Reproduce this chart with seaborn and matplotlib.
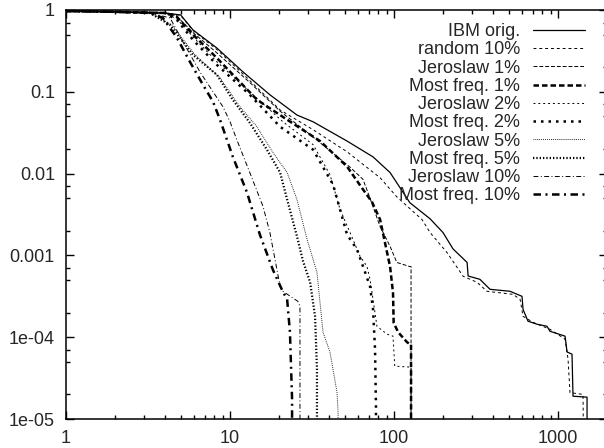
import matplotlib
matplotlib.use("Agg")
import matplotlib.pyplot as plt
import seaborn as sns
from matplotlib.ticker import LogLocator, NullFormatter

# ---- data ----
labels = ["IBM orig.", "random 10%", "Jeroslaw 1%", "Most freq. 1%",
          "Jeroslaw 2%", "Most freq. 2%", "Jeroslaw 5%", "Most freq. 5%",
          "Jeroslaw 10%", "Most freq. 10%"]

ibm_x = [1, 2, 4.0, 5.0, 5.95, 8.3, 12.0, 17.5, 25.6, 32.1, 51.7, 74.5, 94.6, 125, 166, 199, 229, 279, 283,
         334, 385, 510, 603, 612, 656, 745, 857, 893, 1104, 1135, 1217, 1234, 1503, 1503]
ibm_y = [0.97, 0.95, 0.92, 0.87, 0.57, 0.344, 0.175, 0.092, 0.052, 0.043, 0.025, 0.016, 0.0103, 0.0044, 0.0028,
         0.0019, 0.0012, 0.00082, 0.00056, 0.00051, 0.000385, 0.000364, 0.000316, 0.000219, 0.000157, 0.000144,
         0.000136, 0.000118, 0.000103, 6.6e-5, 6.2e-5, 1.9e-5, 1.85e-5, 1e-6]

rnd_x = [1, 2, 4.0, 5.0, 5.95, 8.3, 12.0, 20.2, 32.1, 51.7, 82.2, 104, 148, 166, 210, 264, 321, 369, 532, 587,
         612, 704, 893, 1104, 1151, 1183, 1420, 1442]
rnd_y = [0.97, 0.95, 0.92, 0.86, 0.56, 0.33, 0.165, 0.060, 0.0344, 0.0185, 0.0089, 0.0052, 0.00275, 0.0019,
         0.00109, 0.000555, 0.000469, 0.000364, 0.000334, 0.00029, 0.00018, 0.000152, 0.000125, 9.45e-5, 5.4e-5,
         2.1e-5, 2.0e-5, 1e-6]

jer1_x = [1, 2, 4.0, 4.7, 5.95, 8.3, 13.2, 20.2, 30.8, 40.7, 53.9, 64.7, 71.4, 82.2, 94.6, 104, 125, 127, 127]
jer1_y = [0.97, 0.95, 0.92, 0.85, 0.53, 0.30, 0.13, 0.058, 0.030, 0.019, 0.012, 0.0085, 0.0050, 0.00226,
          0.00129, 0.00082, 0.00073, 0.00073, 1e-6]

mf1_x = [1, 2, 4.0, 4.7, 5.95, 8.3, 14.6, 22.3, 35.4, 51.7, 64.7, 73.4, 82.2, 94.6, 98.6, 99.5, 106, 120, 125,
         127, 127]
mf1_y = [0.97, 0.95, 0.92, 0.84, 0.50, 0.26, 0.080, 0.0456, 0.025, 0.0122, 0.0064, 0.0045, 0.00275, 0.00073,
         0.00035, 0.00015, 0.000115, 8.7e-5, 8.2e-5, 8.2e-5, 1e-6]

jer2_x = [1, 2, 4.0, 4.75, 5.95, 8.33, 13.2, 21.0, 32.1, 40.7, 46.9, 53.9, 62.1, 68.4, 71.4, 74.5, 78.7, 90.6,
          98.6, 101, 125, 127, 127]
jer2_y = [0.97, 0.95, 0.92, 0.777, 0.469, 0.232, 0.10, 0.0431, 0.0226, 0.0097, 0.00364, 0.00191, 0.000973,
          0.000734, 0.00051, 0.00029, 0.000136, 0.000109, 0.000103, 4.43e-5, 4.31e-5, 4.31e-5, 1e-6]

mf2_x = [1, 2, 4.0, 4.75, 5.95, 8.33, 13.2, 20.2, 32.1, 42.5, 51.7, 59.5, 64.7, 71.4, 74.5, 76.6, 77.6, 77.6]
mf2_y = [0.97, 0.95, 0.92, 0.755, 0.431, 0.213, 0.092, 0.0374, 0.0196, 0.00734, 0.0018, 0.00118, 0.000734,
         0.000419, 0.000219, 7.1e-5, 1.44e-5, 1e-6]

jer5_x = [1, 2, 3.25, 4.43, 6.12, 8.69, 11.5, 14.6, 18.3, 22.3, 25.6, 29.5, 33.9, 36.9, 40.7, 44.9, 45.6, 45.6]
jer5_y = [0.97, 0.95, 0.92, 0.657, 0.283, 0.148, 0.0656, 0.0374, 0.018, 0.0103, 0.00482, 0.00157, 0.000621,
          0.000115, 6.56e-5, 2.13e-5, 1.22e-5, 1e-6]

mf5_x = [1, 2, 3.25, 4.31, 5.95, 8.33, 10.4, 13.2, 16.8, 20.2, 22.3, 25.6, 27.9, 30.8, 33.0, 33.9, 33.9]
mf5_y = [0.97, 0.95, 0.92, 0.657, 0.283, 0.161, 0.0799, 0.0419, 0.0196, 0.0103, 0.00482, 0.00171, 0.000845,
         0.000469, 0.00018, 4.07e-5, 1e-6]

jer10_x = [1, 2, 3.25, 4.31, 5.17, 6.56, 8.33, 9.06, 10.0, 11.0, 13.2, 15.9, 17.5, 20.2, 21.0, 25.9, 26.7, 26.7]
jer10_y = [0.97, 0.95, 0.92, 0.80, 0.407, 0.175, 0.0845, 0.0656, 0.0431, 0.026, 0.0103, 0.00396, 0.00191,
           0.000419, 0.000364, 0.000275, 0.000239, 1e-6]

mf10_x = [1, 2, 3.25, 3.9, 4.75, 5.7, 6.84, 7.88, 8.69, 10.4, 12.7, 15.2, 18.3, 21.0, 22.3, 23.2, 23.9, 23.9]
mf10_y = [0.97, 0.95, 0.92, 0.80, 0.456, 0.232, 0.122, 0.0755, 0.0456, 0.0161, 0.00586, 0.0018, 0.00066,
          0.00036, 0.00029, 0.000115, 1.75e-5, 1e-6]

series = [(ibm_x, ibm_y), (rnd_x, rnd_y), (jer1_x, jer1_y), (mf1_x, mf1_y), (jer2_x, jer2_y),
          (mf2_x, mf2_y), (jer5_x, jer5_y), (mf5_x, mf5_y), (jer10_x, jer10_y), (mf10_x, mf10_y)]

# line styles: (linewidth, dash pattern)
styles = [(0.9, None), (0.7, (3, 3)), (0.7, (4, 2)), (1.8, (2.2, 1.2)), (0.7, (2, 3)),
          (1.8, (1.0, 2.0)), (0.7, (0.8, 1.2)), (1.6, (0.6, 0.9)), (0.7, (5, 2.5, 1, 2.5)),
          (1.8, (3, 1.8, 0.8, 1.8))]

sns.set_style("ticks")
plt.rcParams['font.family'] = ['Liberation Sans', 'DejaVu Sans']

fig = plt.figure(figsize=(6.04, 4.48), dpi=100)
ax = fig.add_axes([66 / 604, 29 / 448, 541.4 / 604, 409 / 448])

for (xs, ys), lab, (lw, dash) in zip(series, labels, styles):
    kw = {} if dash is None else {"dashes": dash}
    sns.lineplot(x=xs, y=ys, ax=ax, color="black", lw=lw, label=lab,
                 estimator=None, sort=False, **kw)

ax.set_xscale("log")
ax.set_yscale("log")
ax.set_xlim(1, 2000)
ax.set_ylim(1e-5, 1)

ax.set_xticks([1, 10, 100, 1000])
ax.set_xticklabels(["1", "10", "100", "1000"])
ax.set_yticks([1, 0.1, 0.01, 0.001, 1e-4, 1e-5])
ax.set_yticklabels(["1", "0.1", "0.01", "0.001", "1e-04", "1e-05"])
ax.xaxis.set_minor_locator(LogLocator(base=10, subs=range(2, 10)))
ax.yaxis.set_minor_locator(LogLocator(base=10, subs=[2, 5, 7]))
ax.xaxis.set_minor_formatter(NullFormatter())
ax.yaxis.set_minor_formatter(NullFormatter())

ax.tick_params(which="both", direction="in", top=True, right=True, labelsize=13, width=1.0, color="black")
ax.tick_params(which="major", length=6)
ax.tick_params(which="minor", length=3)
ax.tick_params(axis="x", pad=8)
ax.tick_params(axis="y", pad=8)
for s in ax.spines.values():
    s.set_linewidth(1.1)
    s.set_color("black")
    s.set_visible(True)

leg = ax.legend(loc="upper right", bbox_to_anchor=(0.9586, 0.968), frameon=False, fontsize=13,
                markerfirst=False, handlelength=2.9, handletextpad=0.7, labelspacing=0.07,
                borderaxespad=0, borderpad=0)

fig.savefig("out.png", dpi=100)
